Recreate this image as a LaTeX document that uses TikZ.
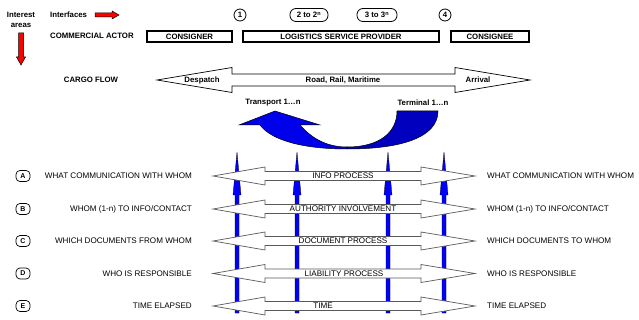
\documentclass[tikz,border=0pt]{standalone}
\usepackage{fontspec}
\setmainfont{Liberation Sans}
\usepackage{tikz}
\usetikzlibrary{positioning}
\definecolor{uturnlight}{RGB}{0,0,235}
\definecolor{uturndark}{RGB}{0,0,190}

\begin{document}
\begin{tikzpicture}[x=1pt,y=-1pt,
  hdr/.style={inner sep=0pt,font=\fontsize{7.8}{9}\selectfont\bfseries},
  rowtxt/.style={inner sep=0pt,font=\fontsize{8.1}{9}\selectfont},
  actorbox/.style={draw,line width=1.6pt,minimum height=11pt,inner sep=0pt,
    font=\fontsize{7.8}{9}\selectfont\bfseries},
  band/.style={draw=black!65,fill=white,line width=0.7pt},
  pill/.style={draw,rounded corners=6pt,line width=0.8pt,minimum height=13pt,
    inner sep=1pt,font=\fontsize{7.8}{9}\selectfont\bfseries},
  circ/.style={draw,circle,line width=0.8pt,minimum size=12pt,inner sep=0pt,
    font=\fontsize{7.8}{9}\selectfont\bfseries},
  tagbox/.style={draw,rounded corners=4pt,line width=0.7pt,minimum width=14pt,
    minimum height=11pt,inner sep=0pt,font=\fontsize{7}{8}\selectfont\bfseries},
  vert/.style={fill=blue,draw=black,line width=0.3pt}]
  \useasboundingbox (0,0) rectangle (639,320);

  % legend
  \node[hdr] (interest) at (21,15) {Interest};
  \node[hdr] (areas) at (21,25) {areas};
  \node[hdr,anchor=west] (interfaces) at (50,15) {Interfaces};
  \draw[fill=red,line width=0.5pt] (95,13) -- (112,13) -- (112,11) -- (119,15) --
    (112,19) -- (112,17) -- (95,17) -- cycle;
  \draw[fill=red,line width=0.5pt] (18.5,33) -- (23.5,33) -- (23.5,57) -- (25.5,57) --
    (21,65) -- (16.5,57) -- (18.5,57) -- cycle;

  % interfaces and actors
  \node[circ] (if1) at (240,15) {1};
  \node[pill,minimum width=38pt] (if2) at (309,15) {2 to 2\textsuperscript{n}};
  \node[pill,minimum width=40pt] (if3) at (377,15) {3 to 3\textsuperscript{n}};
  \node[circ] (if4) at (445,15) {4};
  \node[hdr,anchor=west] (commercial) at (50,36) {COMMERCIAL ACTOR};
  \node[actorbox,minimum width=85pt] (consigner) at (189.5,36.5) {CONSIGNER};
  \node[actorbox,minimum width=196pt] (lsp) at (341,36.5) {LOGISTICS SERVICE PROVIDER};
  \node[actorbox,minimum width=78pt] (consignee) at (490,36.5) {CONSIGNEE};

  % cargo flow
  \node[hdr] (cargo) at (91,80) {CARGO FLOW};
  \draw[fill=white,line width=0.7pt] (157,80) -- (232,67.5) -- (232,74) -- (455,74) --
    (455,67.5) -- (530,80) -- (455,92.5) -- (455,86) -- (232,86) -- (232,92.5) -- cycle;
  \node[hdr] (despatch) at (202,80) {Despatch};
  \node[hdr] (road) at (343,80) {Road, Rail, Maritime};
  \node[hdr] (arrival) at (478,80) {Arrival};
  \node[hdr] (transport) at (273,103) {Transport 1…n};
  \node[hdr] (terminal) at (423,103) {Terminal 1…n};

  % u-turn
  \draw[fill=uturnlight,line width=0.5pt] (275,111) -- (320,125) -- (300,125)
    .. controls (314,141) and (330,147) .. (347,147) -- (347,149)
    .. controls (305,149) and (272,141) .. (260,125) -- (239,125) -- cycle;
  \draw[fill=uturndark,line width=0.5pt] (347,147)
    .. controls (380,147) and (397,132) .. (397,111) -- (438,111)
    .. controls (438,138) and (400,149) .. (347,149) -- cycle;

  % blue uprights
  \foreach \x in {237,297,388,444} {
    \draw[vert] (\x-2,313) -- (\x-2,195) -- (\x-4,195) -- (\x,152) --
      (\x+4,195) -- (\x+2,195) -- (\x+2,313) -- cycle;
  }

  % interest rows
  \foreach \t/\y/\bx/\btxt/\ltxt/\rtxt in {%
    A/176/343/INFO PROCESS/WHAT COMMUNICATION WITH WHOM/WHAT COMMUNICATION WITH WHOM,
    B/209/343/AUTHORITY INVOLVEMENT/{WHOM (1-n) TO INFO/CONTACT}/{WHOM (1-n) TO INFO/CONTACT},
    C/241/343/DOCUMENT PROCESS/WHICH DOCUMENTS FROM WHOM/WHICH DOCUMENTS TO WHOM,
    D/273.5/344/LIABILITY PROCESS/WHO IS RESPONSIBLE/WHO IS RESPONSIBLE,
    E/306/323/TIME/TIME ELAPSED/TIME ELAPSED} {
      \draw[band] (213,\y) -- (265,\y-9) -- (265,\y-4.5) -- (421,\y-4.5) --
        (421,\y-9) -- (475,\y) -- (421,\y+9) -- (421,\y+4.5) -- (265,\y+4.5) --
        (265,\y+9) -- cycle;
      \node[rowtxt] (band\t) at (\bx,\y) {\btxt};
      \node[rowtxt,anchor=east] (left\t) at (192,\y) {\ltxt};
      \node[rowtxt,anchor=west] (right\t) at (487,\y) {\rtxt};
      \node[tagbox] (tag\t) at (23,\y) {\t};
  }
\end{tikzpicture}
\end{document}
